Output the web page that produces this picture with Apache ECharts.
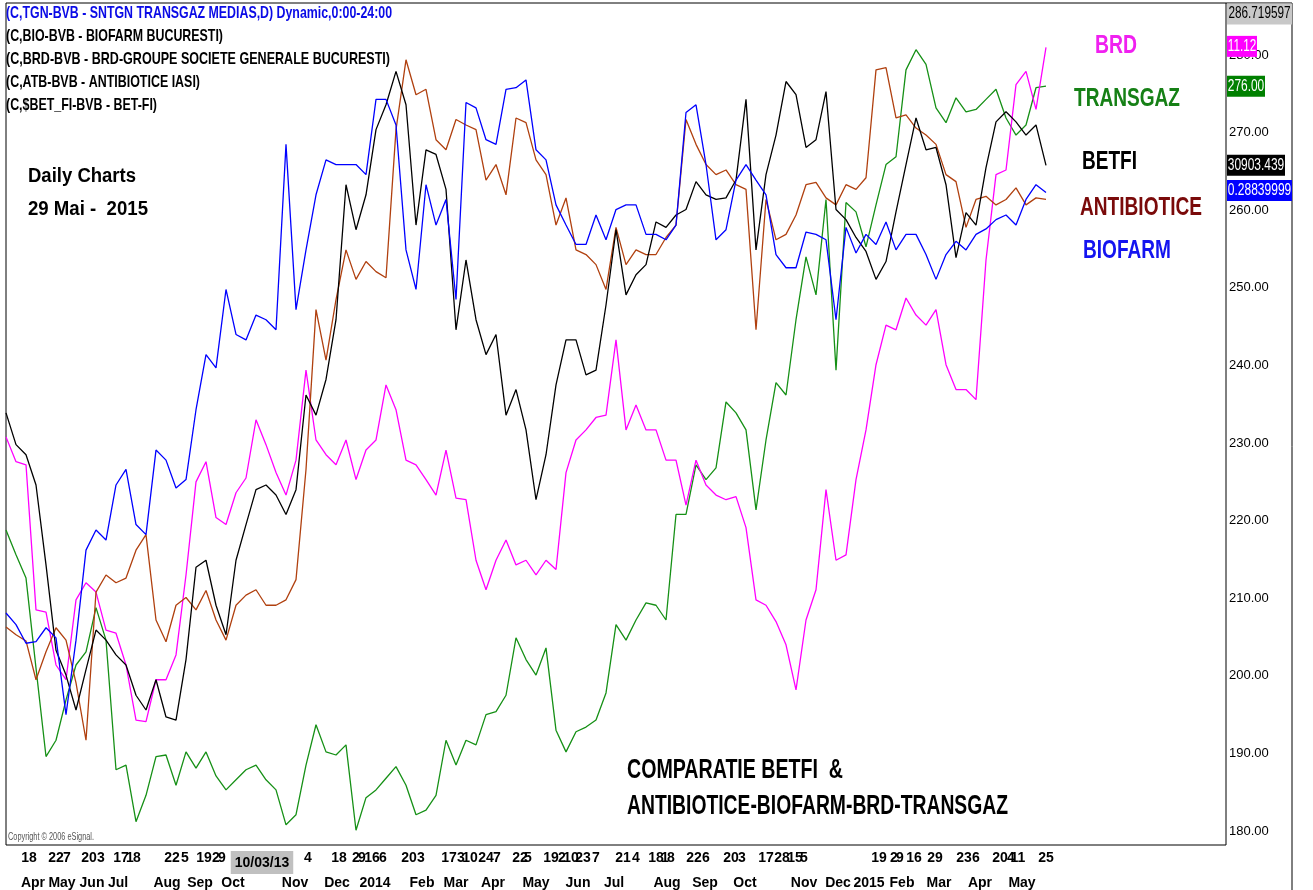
<!DOCTYPE html>
<html>
<head>
<meta charset="utf-8">
<script src="https://cdn.jsdelivr.net/npm/echarts@6/dist/echarts.min.js"></script>
<style>
html, body { margin: 0; padding: 0; background: #fff; }
#chart { width: 1313px; height: 890px; }
</style>
</head>
<body>
<div id="chart"></div>
<script>
// one sample about every week, Apr 2013 -> May 2015 (comparison scale)
var betfi = [233.9,229.8,228.5,224.6,214.3,203.3,200.1,195.6,200.8,205.9,
    204.6,202.7,201.4,197.5,195.6,199.5,194.7,194.3,202.1,214.0,
    214.9,209.1,205.3,214.9,219.5,224.0,224.6,223.3,220.8,224.0,
    236.2,233.6,238.2,245.9,263.3,257.5,262.0,270.4,273.6,277.9,
    273.6,258.1,267.8,267.2,262.7,244.6,253.6,245.9,241.4,244.0,
    233.6,236.9,231.7,222.7,228.5,237.5,243.3,243.3,238.8,239.4,
    247.8,257.5,249.1,251.7,253.0,258.5,257.8,259.4,260.1,263.7,
    262.0,261.4,261.6,263.9,274.3,254.9,264.6,269.7,276.6,274.9,
    268.1,269.1,275.3,260.1,258.8,256.5,254.7,251.1,253.4,259.8,
    265.9,271.9,267.8,268.1,263.3,253.9,259.7,258.1,265.5,271.4,
    272.7,271.4,269.7,271.0,265.8];

var biofarm = [208.1,206.6,204.2,204.4,206.2,204.9,195.0,204.6,216.2,218.8,
    217.5,224.6,226.6,219.5,218.2,229.1,227.8,224.2,225.3,234.3,
    241.4,239.7,249.8,244.0,243.3,246.5,245.9,244.6,268.5,247.2,
    254.9,262.0,266.5,265.9,265.9,265.9,264.6,274.3,274.3,271.0,
    254.9,249.8,263.3,258.1,261.4,248.5,273.9,273.2,269.1,268.5,
    275.6,275.8,276.8,267.8,266.5,260.7,258.1,255.6,255.6,259.4,
    256.2,260.1,260.7,260.7,256.9,256.9,256.2,258.1,272.6,273.6,
    265.9,256.2,257.5,263.9,265.9,263.9,262.0,254.3,252.6,252.6,
    257.2,256.9,256.2,245.9,257.8,254.5,256.9,255.6,258.5,254.9,
    256.9,256.9,254.3,251.1,254.3,256.0,254.9,256.9,257.6,258.8,
    259.4,258.1,261.4,263.3,262.3];

var antibiotice = [206.3,205.3,204.5,199.5,203.1,206.2,204.6,199.1,191.7,210.8,
    213.0,212.0,212.6,216.2,218.2,207.2,204.4,209.1,210.1,208.5,
    211.0,207.2,204.6,209.1,210.4,211.1,209.1,209.1,209.8,212.4,
    226.6,247.2,240.7,248.5,254.9,251.1,253.4,252.1,251.3,270.4,
    279.4,274.9,275.6,269.1,267.8,271.7,271.0,270.4,263.9,265.9,
    262.0,271.9,271.3,266.5,264.6,258.1,261.6,254.9,254.3,253.0,
    249.8,257.8,253.0,254.9,254.3,254.3,256.5,258.1,271.7,268.5,
    265.9,264.6,265.2,263.3,262.7,244.6,261.4,256.2,256.9,259.4,
    263.3,263.6,261.6,260.7,263.3,262.7,264.2,278.1,278.4,271.9,
    272.3,270.6,269.7,268.5,264.6,263.7,257.8,261.4,261.8,260.7,
    261.4,262.9,260.7,261.6,261.4];

var brd = [230.8,227.6,227.2,208.5,208.2,201.4,199.5,209.8,212.0,210.8,
    205.9,205.5,201.4,194.3,194.1,199.5,199.5,202.7,213.0,225.0,
    227.6,220.4,219.5,223.6,225.5,233.0,229.8,226.2,223.3,227.8,
    239.4,230.4,228.5,227.2,230.4,225.3,229.1,230.4,237.5,234.3,
    227.8,227.2,225.3,223.3,229.1,222.9,222.7,214.9,211.1,214.9,
    217.5,214.3,214.9,213.0,214.9,213.7,226.2,230.4,231.7,233.3,
    233.6,243.3,231.7,234.9,231.7,231.7,227.8,227.8,222.0,227.8,
    224.6,223.3,222.7,223.1,219.1,209.8,209.1,207.0,204.0,198.2,
    207.2,211.1,224.0,214.9,215.6,225.3,231.7,240.1,245.2,244.6,
    248.7,246.5,245.2,247.2,240.1,236.9,236.9,235.6,253.6,264.6,
    265.2,276.2,277.9,273.0,281.0];

var transgaz = [218.8,215.6,212.6,201.0,189.6,191.7,196.9,201.4,203.1,208.8,
    204.6,187.9,188.5,181.2,184.6,189.6,189.8,185.9,190.2,188.1,
    190.2,187.1,185.3,186.6,187.9,188.5,186.6,185.3,180.8,182.1,
    188.5,193.7,190.2,189.8,191.1,180.1,184.3,185.3,186.8,188.3,
    185.9,182.1,182.7,184.6,191.7,188.5,191.7,191.1,195.0,195.4,
    197.5,204.9,202.1,200.1,203.6,193.0,190.2,192.8,193.4,194.3,
    197.8,206.6,204.6,207.2,209.4,209.1,207.2,220.8,220.8,227.2,
    225.3,226.8,235.3,233.9,231.7,221.4,230.4,237.8,236.2,245.9,
    254.0,249.1,261.4,239.4,261.0,259.8,255.3,260.7,265.9,266.9,
    278.1,280.7,278.8,273.2,271.3,274.5,272.7,273.0,274.3,275.6,
    271.9,269.7,271.0,275.8,276.0];

// date row (position in samples, text)
var dayTicks = [[2.3,'18'],[5.0,'22'],[6.1,'7'],[8.3,'20'],[9.5,'3'],[11.5,'17'],[12.4,'1'],[13.1,'8'],
    [16.6,'22'],[17.9,'5'],[19.8,'19'],[21.0,'2'],[21.6,'9'],[25.6,'10/03/13'],[30.2,'4'],[33.3,'18'],
    [35.0,'2'],[35.6,'9'],[36.6,'16'],[37.7,'6'],[40.3,'20'],[41.5,'3'],[44.3,'17'],[45.5,'3'],
    [46.4,'10'],[48.0,'24'],[49.1,'7'],[51.4,'22'],[52.2,'5'],[54.5,'19'],[55.6,'2'],[56.5,'10'],
    [57.7,'23'],[59.0,'7'],[61.7,'21'],[63.0,'4'],[65.0,'18'],[65.9,'1'],[66.5,'8'],[68.8,'22'],
    [70.0,'6'],[72.5,'20'],[73.6,'3'],[76.0,'17'],[77.6,'28'],[78.9,'15'],[79.8,'5'],[87.3,'19'],
    [88.8,'2'],[89.4,'9'],[90.8,'16'],[92.9,'29'],[95.8,'23'],[97.0,'6'],[99.4,'20'],[100.5,'4'],
    [101.2,'11'],[104.0,'25']];
var monthTicks = [[2.7,'Apr'],[5.6,'May'],[8.6,'Jun'],[11.2,'Jul'],[16.1,'Aug'],[19.4,'Sep'],[22.7,'Oct'],
    [28.9,'Nov'],[33.1,'Dec'],[36.9,'2014'],[41.6,'Feb'],[45.0,'Mar'],[48.7,'Apr'],[53.0,'May'],
    [57.2,'Jun'],[60.8,'Jul'],[66.1,'Aug'],[69.9,'Sep'],[73.9,'Oct'],[79.8,'Nov'],[83.2,'Dec'],
    [86.3,'2015'],[89.6,'Feb'],[93.3,'Mar'],[97.4,'Apr'],[101.6,'May']];
var yTicks = [180, 190, 200, 210, 220, 230, 240, 250, 260, 270, 280];
var yMin = 178.2, yMax = 286.719597;
var xMax = 122;

var colors = { betfi: '#000000', biofarm: '#0000ff', antibiotice: '#b0400f', brd: '#ff00ff', transgaz: '#169016' };

var cnv = document.createElement('canvas').getContext('2d');
function textW(str, font) { cnv.font = font; return cnv.measureText(str).width; }
var hasNarrow = textW('270.00 ABCDEFG', '16px "Liberation Sans Narrow", monospace') !== textW('270.00 ABCDEFG', '16px monospace');
var narrowFamily = hasNarrow ? 'Liberation Sans Narrow' : 'Liberation Sans';

// text squeezed to fit the span it has in the picture
function label(str, left, right, cy, size, color, weight, extra) {
    var font = (weight || 'bold') + ' ' + size + 'px "Liberation Sans"';
    var pad = extra && extra.padding ? extra.padding[1] + extra.padding[3] : 0;
    var sx = (right - left) / (textW(str, font) + pad);
    var style = { text: str, font: font, fill: color, verticalAlign: 'middle' };
    if (extra) { for (var k in extra) style[k] = extra[k]; }
    return { type: 'text', x: left, y: cy, scaleX: sx, z: 100, style: style };
}

function lookup(list) {
    return function (v) {
        for (var i = 0; i < list.length; i++) {
            if (Math.abs(list[i][0] - v) < 1e-6) {
                return list[i][1] === '10/03/13' ? '{hl|' + list[i][1] + '}' : list[i][1];
            }
        }
        return '';
    };
}

function toPairs(arr) { return arr.map(function (v, i) { return [i, v]; }); }

function line(name, data, color) {
    return {
        name: name, type: 'line', data: toPairs(data), showSymbol: false, silent: true,
        lineStyle: { color: color, width: 1.3 }, animation: false
    };
}

var axisSize = hasNarrow ? 16 : 14;

var chart = echarts.init(document.getElementById('chart'), null, { renderer: 'canvas' });

var option = {
    animation: false,
    grid: { left: 6, right: 87, top: 3, bottom: 45, show: true, borderColor: '#000', borderWidth: 1 },
    xAxis: [
        {
            type: 'value', min: 0, max: xMax, position: 'bottom',
            axisLine: { show: false }, axisTick: { show: false }, splitLine: { show: false },
            axisLabel: {
                customValues: dayTicks.map(function (d) { return d[0]; }),
                formatter: lookup(dayTicks), margin: 6,
                fontFamily: narrowFamily, fontWeight: 'bold', fontSize: axisSize, color: '#000',
                rich: { hl: { backgroundColor: '#c0c0c0', padding: [5, 4, 4, 4], fontFamily: narrowFamily, fontWeight: 'bold', fontSize: axisSize, color: '#000' } }
            }
        },
        {
            type: 'value', min: 0, max: xMax, position: 'bottom', offset: 25,
            axisLine: { show: false }, axisTick: { show: false }, splitLine: { show: false },
            axisLabel: {
                customValues: monthTicks.map(function (d) { return d[0]; }),
                formatter: lookup(monthTicks), margin: 6,
                fontFamily: narrowFamily, fontWeight: 'bold', fontSize: axisSize, color: '#000'
            }
        }
    ],
    yAxis: {
        type: 'value', position: 'right', min: yMin, max: yMax,
        axisLine: { show: false }, axisTick: { show: false }, splitLine: { show: false },
        axisLabel: {
            customValues: yTicks, margin: 3,
            formatter: function (v) { return v.toFixed(2); },
            fontFamily: narrowFamily, fontSize: hasNarrow ? 15 : 13, color: '#000'
        }
    },
    series: [
        line('TRANSGAZ', transgaz, colors.transgaz),
        line('BRD', brd, colors.brd),
        line('ANTIBIOTICE', antibiotice, colors.antibiotice),
        line('BETFI', betfi, colors.betfi),
        line('BIOFARM', biofarm, colors.biofarm)
    ]
};
chart.setOption(option);

// frame, notes and last-value tags
var gx = chart.convertToPixel({ xAxisIndex: 0 }, xMax);
var gyTop = chart.convertToPixel({ yAxisIndex: 0 }, yMax);
function yOf(v) { return chart.convertToPixel({ yAxisIndex: 0 }, v); }

var graphics = [
    { type: 'line', shape: { x1: gx, y1: gyTop, x2: 1292, y2: gyTop }, style: { stroke: '#000', lineWidth: 1 }, z: 90 },
    { type: 'line', shape: { x1: 1292, y1: gyTop, x2: 1292, y2: 890 }, style: { stroke: '#000', lineWidth: 1 }, z: 90 },

    label('(C,TGN-BVB - SNTGN TRANSGAZ MEDIAS,D) Dynamic,0:00-24:00', 6, 392, 13, 17, '#0a0ae6'),
    label('(C,BIO-BVB - BIOFARM BUCURESTI)', 6, 223, 36, 17, '#000'),
    label('(C,BRD-BVB - BRD-GROUPE SOCIETE GENERALE BUCURESTI)', 6, 390, 59, 17, '#000'),
    label('(C,ATB-BVB - ANTIBIOTICE IASI)', 6, 200, 82, 17, '#000'),
    label('(C,$BET_FI-BVB - BET-FI)', 6, 157, 105, 17, '#000'),

    label('Daily Charts', 28, 136, 176, 20, '#000'),
    label('29 Mai -  2015', 28, 148, 209, 20, '#000'),

    label('BRD', 1095, 1137, 46, 25, '#f020f0'),
    label('TRANSGAZ', 1074, 1180, 99, 25, '#168016'),
    label('BETFI', 1082, 1137, 162, 25, '#000'),
    label('ANTIBIOTICE', 1080, 1202, 208, 25, '#7a0a0a'),
    label('BIOFARM', 1083, 1171, 251, 25, '#1414f0'),

    label('COMPARATIE BETFI  &', 627, 843, 771, 27, '#000'),
    label('ANTIBIOTICE-BIOFARM-BRD-TRANSGAZ', 627, 1008, 807, 27, '#000'),

    label('Copyright \u00a9 2006 eSignal.', 8, 94, 837, 10, '#555', 'normal'),

    label('286.719597', gx + 1, 1292, gyTop + 11, 16, '#000', 'normal', { backgroundColor: '#c8c8c8', padding: [3, 2, 2, 2] }),
    label('11.12', gx + 1, 1257, yOf(brd[brd.length - 1]) - 1, 16, '#fff', 'normal', { backgroundColor: '#ff00ff', padding: [3, 1, 2, 1] }),
    label('276.00', gx + 1, 1265, yOf(transgaz[transgaz.length - 1]), 16, '#fff', 'normal', { backgroundColor: '#008000', padding: [3, 1, 2, 1] }),
    label('30903.439', gx + 1, 1285, yOf(betfi[betfi.length - 1]), 16, '#fff', 'normal', { backgroundColor: '#000', padding: [3, 1, 2, 1] }),
    label('0.28839999', gx + 1, 1292, yOf(biofarm[biofarm.length - 1]) - 2, 16, '#fff', 'normal', { backgroundColor: '#0000ff', padding: [3, 1, 2, 1] })
];
chart.setOption({ graphic: graphics });
</script>
</body>
</html>
